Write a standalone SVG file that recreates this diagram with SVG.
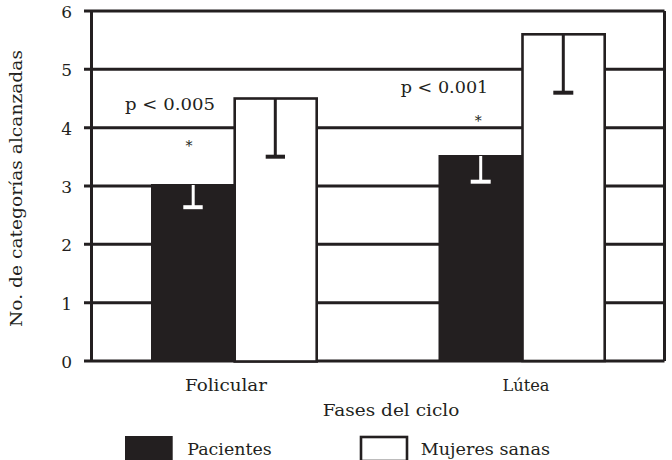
<svg xmlns="http://www.w3.org/2000/svg" width="672" height="460" viewBox="0 0 672 460">
<style>
text{font-family:"DejaVu Serif","Liberation Serif",serif;font-size:17px;fill:#231f20}
.grid{stroke:#231f20;stroke-width:3;fill:none}
.dark{fill:#231f20}
.open{fill:#ffffff;stroke:#231f20;stroke-width:2.6}
.ebw{stroke:#ffffff;fill:none}
.ebd{stroke:#231f20;fill:none}
.tick{text-anchor:end}
.mid{text-anchor:middle}
.ast{font-size:14px;text-anchor:middle}
</style>
<rect width="672" height="460" fill="#ffffff"/>
<g id="axes">
<path class="grid" d="M84 11H664.5M84 69.3H664.5M84 127.7H664.5M84 186H664.5M84 244.3H664.5M84 302.7H664.5M84 361H664.5"/>
<path class="grid" d="M91.5 11V361M664.5 11V361" stroke-width="2.8"/>
<text class="tick" x="72" y="18">6</text>
<text class="tick" x="72" y="76.3">5</text>
<text class="tick" x="72" y="134.7">4</text>
<text class="tick" x="72" y="193">3</text>
<text class="tick" x="72" y="251.3">2</text>
<text class="tick" x="72" y="309.7">1</text>
<text class="tick" x="72" y="368">0</text>
<text class="mid" transform="translate(22 188.5) rotate(-90)" textLength="277" lengthAdjust="spacingAndGlyphs">No. de categorías alcanzadas</text>
</g>
<g id="folicular">
<rect class="open" x="234.7" y="98.5" width="82" height="263"/>
<rect class="dark" x="151" y="184" width="84" height="177"/>
<path class="ebw" d="M193.2 185V207" stroke-width="3"/>
<path class="ebw" d="M183.3 207.2H202.7" stroke-width="4"/>
<path class="ebd" d="M275.3 99V156" stroke-width="3"/>
<path class="ebd" d="M265.7 156.7H285" stroke-width="4"/>
<text x="125" y="110" textLength="90" lengthAdjust="spacingAndGlyphs">p &lt; 0.005</text>
<text class="ast" x="189" y="150.5">*</text>
<text class="mid" x="226" y="391" textLength="82" lengthAdjust="spacingAndGlyphs">Folicular</text>
</g>
<g id="lutea">
<rect class="open" x="522.5" y="34.3" width="82.2" height="326.7"/>
<rect class="dark" x="438.5" y="155" width="84" height="206"/>
<path class="ebw" d="M480.7 156V181" stroke-width="3"/>
<path class="ebw" d="M470.7 181.7H490.7" stroke-width="4"/>
<path class="ebd" d="M563.3 35V92" stroke-width="3"/>
<path class="ebd" d="M553.3 92.7H573.3" stroke-width="4"/>
<text x="400.7" y="93.3" textLength="87.6" lengthAdjust="spacingAndGlyphs">p &lt; 0.001</text>
<text class="ast" x="478.3" y="125.5">*</text>
<text class="mid" x="526" y="391" textLength="47" lengthAdjust="spacingAndGlyphs">Lútea</text>
</g>
<text class="mid" x="391" y="416" textLength="136.6" lengthAdjust="spacingAndGlyphs">Fases del ciclo</text>
<g id="legend">
<rect class="dark" x="125" y="436" width="47.7" height="24"/>
<text x="187.3" y="455" textLength="84.4" lengthAdjust="spacingAndGlyphs">Pacientes</text>
<rect class="open" x="361" y="437" width="46" height="24" stroke-width="2"/>
<text x="420.7" y="455" textLength="129.3" lengthAdjust="spacingAndGlyphs">Mujeres sanas</text>
</g>
</svg>
